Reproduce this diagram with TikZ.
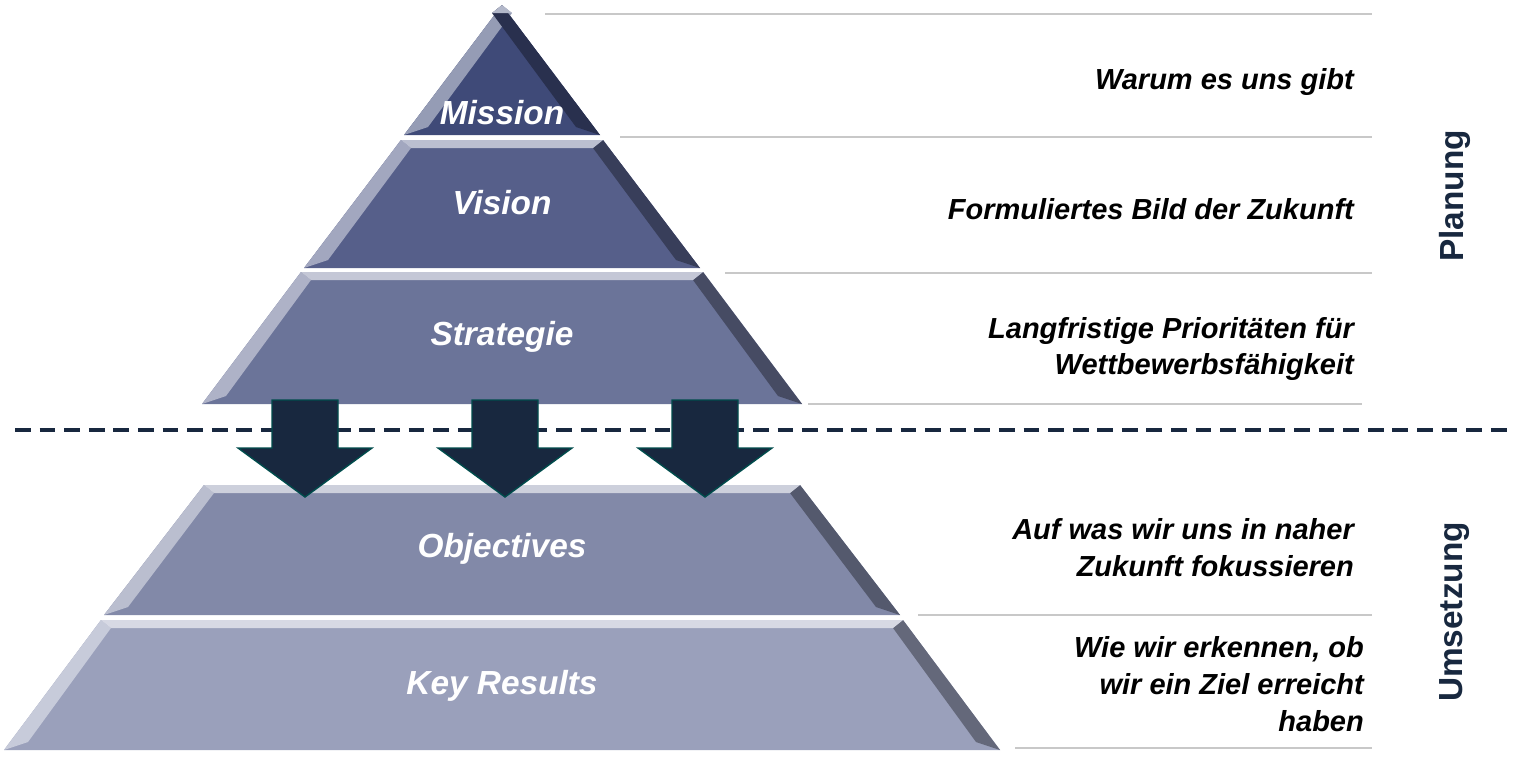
\documentclass[tikz,border=0pt]{standalone}
\usepackage{fontspec}
\setmainfont{Liberation Sans}
\definecolor{navy}{HTML}{18283F}
\definecolor{rulegray}{HTML}{C8C8C8}
\definecolor{missioncol}{RGB}{63,74,120}
\definecolor{visioncol}{RGB}{86,95,138}
\definecolor{strategiecol}{RGB}{107,116,153}
\definecolor{objectivescol}{RGB}{130,137,168}
\definecolor{resultscol}{RGB}{154,160,187}
\tikzset{
    layertext/.style={text=white,font=\fontsize{19}{22}\selectfont\bfseries\itshape},
    sidetext/.style={anchor=east,align=right,font=\fontsize{16.5}{21}\selectfont\bfseries\itshape},
    phasetext/.style={rotate=90,text=navy,font=\fontsize{19}{22}\selectfont\bfseries},
    guide/.style={rulegray,line width=1.5pt},
    downarrow/.style={fill=navy,draw=teal!60!black,line width=0.8pt}
}
% #1 top y, #2 bottom y, #3 top half width, #4 bottom half width, #5 colour
\newcommand{\layer}[5]{%
    \fill[#5] (502-#3,#1) -- (502+#3,#1) -- (502+#4,#2) -- (502-#4,#2) -- cycle;
    \fill[#5!55!white] (502-#3,#1) -- (502-#4,#2) -- (502-#4+24,#2-8) -- (502-#3+10,#1+8) -- cycle;
    \fill[#5!65!black] (502+#3,#1) -- (502+#4,#2) -- (502+#4-24,#2-8) -- (502+#3-10,#1+8) -- cycle;
    \fill[#5!40!white] (502-#3,#1) -- (502+#3,#1) -- (502+#3-10,#1+8) -- (502-#3+10,#1+8) -- cycle;
}
\begin{document}
\begin{tikzpicture}[x=0.02cm,y=-0.02cm]
    \useasboundingbox (0,0) rectangle (1514,762);
    % pyramid layers
    \layer{5}{135}{0}{98}{missioncol}
    \layer{140}{268}{101}{198}{visioncol}
    \layer{272}{404}{201}{300}{strategiecol}
    \layer{485}{615}{298}{398}{objectivescol}
    \layer{620}{750}{401}{498}{resultscol}
    \node[layertext] (mission) at (502,113) {Mission};
    \node[layertext] (vision) at (502,203) {Vision};
    \node[layertext] (strategie) at (502,337) {Strategie};
    \node[layertext] (objectives) at (502,549) {Objectives};
    \node[layertext] (keyresults) at (502,686) {Key Results};
    % separator
    \draw[navy,line width=1.8pt,dash pattern=on 9pt off 5pt] (15,430) -- (1514,430);
    % arrows
    \foreach \cx in {305,505,705}
    {\draw[downarrow] (\cx-33,400) -- (\cx+33,400) -- (\cx+33,448) -- (\cx+67,448)
        -- (\cx,497) -- (\cx-67,448) -- (\cx-33,448) -- cycle;}
    % guide lines
    \draw[guide] (545,14) -- (1372,14);
    \draw[guide] (620,137) -- (1372,137);
    \draw[guide] (725,273) -- (1372,273);
    \draw[guide] (808,404) -- (1362,404);
    \draw[guide] (918,615) -- (1372,615);
    \draw[guide] (1015,748) -- (1372,748);
    % descriptions
    \node[sidetext] (warum) at (1360,82) {Warum es uns gibt};
    \node[sidetext] (bild) at (1360,209) {Formuliertes Bild der Zukunft};
    \node[sidetext] (prio) at (1360,349) {Langfristige Prioritäten für\\Wettbewerbsfähigkeit};
    \node[sidetext] (fokus) at (1360,548) {Auf was wir uns in naher\\Zukunft fokussieren};
    \node[sidetext] (ziel) at (1370,684) {Wie wir erkennen, ob\\wir ein Ziel erreicht\\haben};
    \node[phasetext] (planung) at (1455,196) {Planung};
    \node[phasetext] (umsetzung) at (1455,612) {Umsetzung};
\end{tikzpicture}
\end{document}
